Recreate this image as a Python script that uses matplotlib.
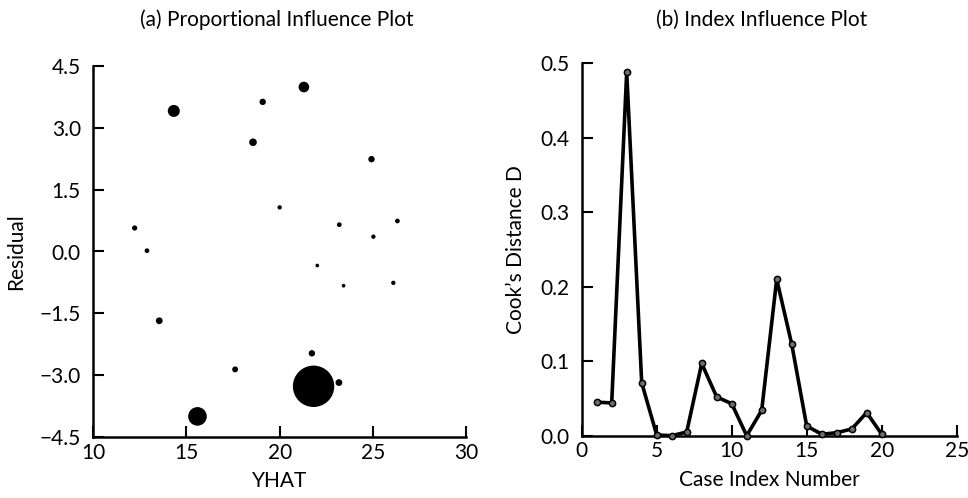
import matplotlib
matplotlib.use("Agg")
import matplotlib.pyplot as plt

plt.rcParams["font.family"] = ["Lato", "DejaVu Sans"]

# (a) fitted values, residuals and relative influence (bubble area)
yhat = [14.32, 21.30, 19.09, 18.57, 24.93, 20.00, 12.22, 23.20, 26.32, 25.03,
        12.88, 22.02, 23.43, 26.10, 13.54, 21.73, 17.61, 21.82, 23.18, 15.59]
residual = [3.41, 3.99, 3.63, 2.65, 2.24, 1.07, 0.57, 0.65, 0.74, 0.36,
            0.02, -0.34, -0.83, -0.76, -1.68, -2.47, -2.86, -3.27, -3.18, -4.00]
influence = [0.084, 0.066, 0.024, 0.034, 0.024, 0.011, 0.016, 0.013, 0.013, 0.011,
             0.013, 0.008, 0.008, 0.011, 0.027, 0.024, 0.020, 1.000, 0.027, 0.202]

# (b) Cook's distance by case number
case_index = list(range(1, 21))
cooks_d = [0.045, 0.044, 0.488, 0.071, 0.001, 0.000, 0.005, 0.097, 0.052, 0.043,
           0.000, 0.034, 0.210, 0.123, 0.013, 0.002, 0.004, 0.009, 0.031, 0.002]

x_ticks_a = [10, 15, 20, 25, 30]
y_ticks_a = [4.5, 3.0, 1.5, 0.0, -1.5, -3.0, -4.5]
x_ticks_b = [0, 5, 10, 15, 20, 25]
y_ticks_b = [0.0, 0.1, 0.2, 0.3, 0.4, 0.5]

W, H = 968, 498
fig = plt.figure(figsize=(W / 100, H / 100), dpi=100)


def px_axes(x0, y0, x1, y1):
    return fig.add_axes([x0 / W, 1 - y1 / H, (x1 - x0) / W, (y1 - y0) / H])


def style(ax):
    for s in ("top", "right"):
        ax.spines[s].set_visible(False)
    for s in ("left", "bottom"):
        ax.spines[s].set_linewidth(1.8)
    ax.tick_params(direction="in", length=8, width=1.5, labelsize=15,
                   colors="black")
    ax.tick_params(axis="x", pad=4)
    ax.tick_params(axis="y", pad=9)


ax1 = px_axes(93.3, 66, 466, 437)
max_r = 20.7  # pixel radius of the largest bubble
sizes = [(1.44 * max_r) ** 2 * v for v in influence]
ax1.scatter(yhat, residual, s=sizes, c="black", linewidths=0, zorder=3)
ax1.set_xlim(10, 30)
ax1.set_ylim(-4.5, 4.5)
ax1.set_xticks(x_ticks_a)
ax1.set_yticks(y_ticks_a)
ax1.set_yticklabels([f"{v:.1f}".replace("-", "\u2212") for v in y_ticks_a])
ax1.set_xlabel("YHAT", fontsize=15, labelpad=6)
ax1.set_ylabel("Residual", fontsize=15, labelpad=10)
style(ax1)

ax2 = px_axes(581.7, 63.2, 956.7, 435.7)
ax2.plot(case_index, cooks_d, color="black", linewidth=2.6, marker="o",
         markersize=4.5, markerfacecolor="#6e6e6e", markeredgecolor="black",
         markeredgewidth=1.1, zorder=3, clip_on=False)
ax2.set_xlim(0, 25)
ax2.set_ylim(0, 0.5)
ax2.set_xticks(x_ticks_b)
ax2.set_yticks(y_ticks_b)
ax2.set_yticklabels([f"{v:.1f}" for v in y_ticks_b])
ax2.set_xlabel("Case Index Number", fontsize=15, labelpad=6)
ax2.set_ylabel("Cook\u2019s Distance D", fontsize=15, labelpad=10)
style(ax2)

fig.text(277 / W, 1 - 20 / H, "(a) Proportional Influence Plot", fontsize=15,
         ha="center", va="center")
fig.text(762 / W, 1 - 20 / H, "(b) Index Influence Plot", fontsize=15,
         ha="center", va="center")

fig.savefig("out.png", dpi=100, facecolor="white")
